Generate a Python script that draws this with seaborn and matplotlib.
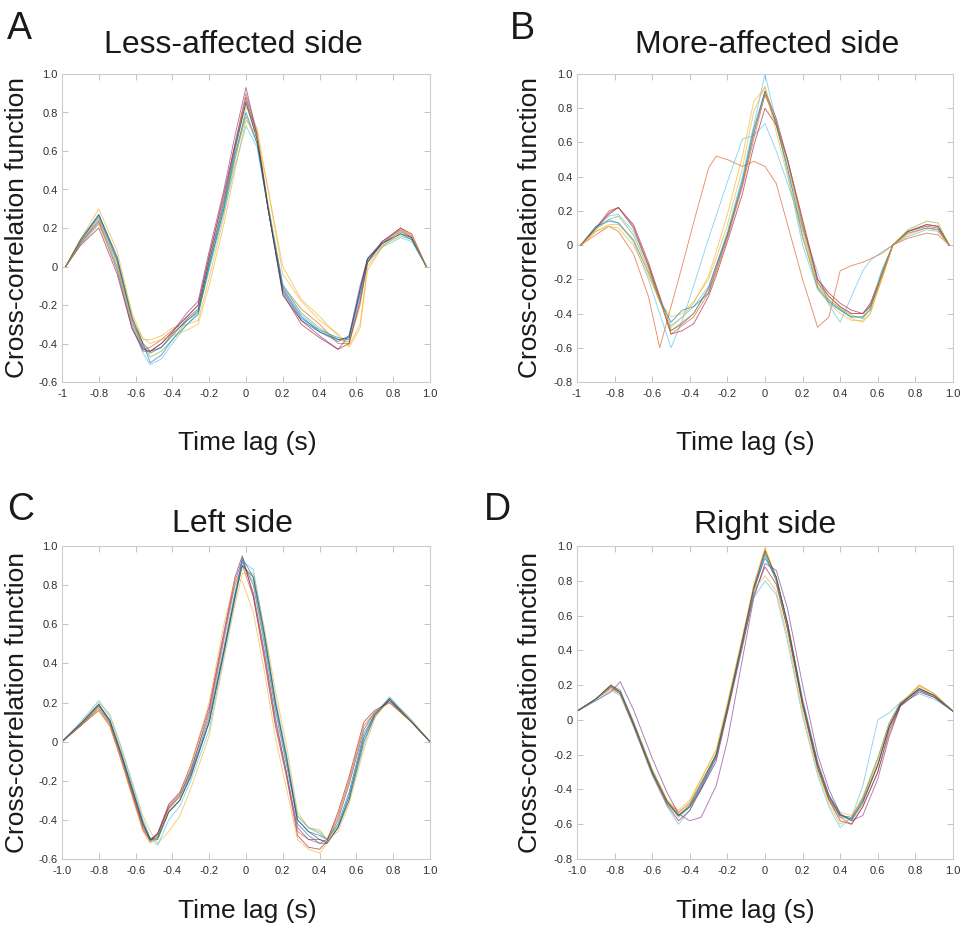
import numpy as np
import pandas as pd
import matplotlib
matplotlib.use("Agg")
import matplotlib.pyplot as plt
import seaborn as sns

# ---------------- data ----------------
# Panel A: Less-affected side
lag_A = [-0.98, -0.9, -0.8, -0.7, -0.62, -0.56, -0.52, -0.46, -0.4, -0.32, -0.26, -0.2, -0.12, -0.06,
         0.0, 0.06, 0.12, 0.2, 0.3, 0.4, 0.5, 0.56, 0.62, 0.66, 0.74, 0.84, 0.9, 0.98]
A1 = [0, 0.13, 0.27, 0.04, -0.28, -0.42, -0.45, -0.42, -0.36, -0.27, -0.22, 0.02, 0.32, 0.6, 0.86, 0.66, 0.3, -0.12, -0.27, -0.33, -0.37, -0.38, -0.12, 0.03, 0.12, 0.18, 0.15, 0]
A2 = [0, 0.12, 0.24, 0.0, -0.3, -0.43, -0.42, -0.38, -0.33, -0.26, -0.2, 0.06, 0.36, 0.64, 0.9, 0.7, 0.32, -0.1, -0.22, -0.3, -0.4, -0.4, -0.2, 0.02, 0.12, 0.2, 0.16, 0]
A3 = [0, 0.14, 0.30, 0.08, -0.24, -0.38, -0.38, -0.36, -0.32, -0.3, -0.28, -0.06, 0.26, 0.55, 0.83, 0.72, 0.4, -0.04, -0.18, -0.28, -0.35, -0.41, -0.3, 0.0, 0.1, 0.19, 0.16, 0]
A4 = [0, 0.12, 0.23, -0.02, -0.32, -0.44, -0.44, -0.4, -0.34, -0.24, -0.18, 0.08, 0.4, 0.68, 0.93, 0.68, 0.3, -0.13, -0.28, -0.36, -0.43, -0.36, -0.1, 0.04, 0.13, 0.19, 0.15, 0]
A5 = [0, 0.12, 0.25, 0.02, -0.28, -0.41, -0.47, -0.44, -0.38, -0.28, -0.24, 0.0, 0.3, 0.56, 0.78, 0.64, 0.32, -0.1, -0.24, -0.32, -0.38, -0.39, -0.16, 0.03, 0.11, 0.16, 0.14, 0]
A6 = [0, 0.11, 0.22, -0.01, -0.3, -0.45, -0.51, -0.48, -0.4, -0.3, -0.24, -0.02, 0.28, 0.52, 0.73, 0.62, 0.3, -0.09, -0.25, -0.33, -0.38, -0.38, -0.15, 0.02, 0.1, 0.15, 0.13, 0]
A7 = [0, 0.11, 0.2, -0.04, -0.32, -0.43, -0.44, -0.4, -0.34, -0.26, -0.2, 0.05, 0.38, 0.63, 0.88, 0.68, 0.3, -0.14, -0.3, -0.37, -0.43, -0.4, -0.18, 0.02, 0.13, 0.2, 0.17, 0]
A8 = [0, 0.13, 0.26, 0.03, -0.27, -0.4, -0.5, -0.46, -0.38, -0.3, -0.25, 0.0, 0.3, 0.58, 0.8, 0.64, 0.3, -0.11, -0.26, -0.34, -0.39, -0.36, -0.14, 0.04, 0.12, 0.17, 0.14, 0]
A9 = [0, 0.14, 0.27, 0.05, -0.26, -0.4, -0.44, -0.42, -0.35, -0.28, -0.23, 0.03, 0.34, 0.62, 0.85, 0.66, 0.3, -0.15, -0.28, -0.34, -0.38, -0.37, -0.12, 0.04, 0.12, 0.17, 0.15, 0]
A10 = [0, 0.12, 0.22, 0.0, -0.28, -0.37, -0.4, -0.38, -0.36, -0.33, -0.3, -0.1, 0.22, 0.5, 0.76, 0.68, 0.4, 0.0, -0.17, -0.26, -0.36, -0.42, -0.32, -0.02, 0.1, 0.18, 0.16, 0]

# Panel B: More-affected side
lag_B = [-0.98, -0.9, -0.83, -0.78, -0.7, -0.62, -0.56, -0.5, -0.44, -0.38, -0.3, -0.26, -0.2, -0.12, -0.06,
         0.0, 0.06, 0.12, 0.2, 0.28, 0.34, 0.4, 0.46, 0.52, 0.56, 0.62, 0.68, 0.76, 0.86, 0.92, 0.98]
B1 = [0, 0.06, 0.11, 0.08, -0.05, -0.3, -0.6, -0.36, -0.12, 0.13, 0.45, 0.52, 0.5, 0.46, 0.49, 0.46, 0.36, 0.12, -0.2, -0.48, -0.42, -0.15, -0.12, -0.1, -0.08, -0.05, 0.0, 0.04, 0.07, 0.06, 0]
B2 = [0, 0.1, 0.15, 0.13, 0.02, -0.2, -0.4, -0.6, -0.44, -0.24, 0.04, 0.17, 0.37, 0.62, 0.64, 0.71, 0.55, 0.36, 0.1, -0.16, -0.35, -0.45, -0.3, -0.15, -0.09, -0.04, 0.0, 0.05, 0.09, 0.08, 0]
B3 = [0, 0.1, 0.17, 0.18, 0.08, -0.12, -0.3, -0.47, -0.42, -0.36, -0.24, -0.12, 0.08, 0.4, 0.7, 1.0, 0.72, 0.42, 0.0, -0.26, -0.34, -0.38, -0.42, -0.42, -0.35, -0.15, 0.0, 0.08, 0.12, 0.11, 0]
B4 = [0, 0.1, 0.18, 0.22, 0.12, -0.1, -0.3, -0.52, -0.5, -0.46, -0.3, -0.18, 0.02, 0.3, 0.58, 0.8, 0.7, 0.5, 0.15, -0.2, -0.28, -0.34, -0.38, -0.4, -0.36, -0.2, 0.0, 0.08, 0.12, 0.11, 0]
B5 = [0, 0.08, 0.11, 0.1, 0.0, -0.18, -0.33, -0.42, -0.4, -0.33, -0.2, -0.08, 0.12, 0.45, 0.78, 0.93, 0.7, 0.45, 0.08, -0.24, -0.32, -0.37, -0.43, -0.45, -0.4, -0.2, 0.0, 0.06, 0.1, 0.09, 0]
B6 = [0, 0.1, 0.19, 0.22, 0.1, -0.12, -0.32, -0.5, -0.46, -0.4, -0.25, -0.12, 0.06, 0.36, 0.65, 0.9, 0.74, 0.5, 0.12, -0.2, -0.3, -0.36, -0.4, -0.4, -0.34, -0.18, 0.0, 0.08, 0.11, 0.1, 0]
B7 = [0, 0.11, 0.14, 0.13, 0.03, -0.16, -0.32, -0.45, -0.38, -0.36, -0.28, -0.14, 0.06, 0.38, 0.68, 0.9, 0.7, 0.45, 0.05, -0.25, -0.33, -0.38, -0.42, -0.42, -0.38, -0.16, 0.0, 0.07, 0.1, 0.09, 0]
B8 = [0, 0.09, 0.15, 0.17, 0.06, -0.14, -0.32, -0.5, -0.45, -0.4, -0.26, -0.14, 0.05, 0.36, 0.66, 0.88, 0.72, 0.48, 0.1, -0.22, -0.32, -0.37, -0.41, -0.43, -0.37, -0.17, 0.0, 0.09, 0.14, 0.13, 0]
B9 = [0, 0.1, 0.2, 0.22, 0.11, -0.12, -0.32, -0.52, -0.47, -0.42, -0.28, -0.16, 0.04, 0.34, 0.62, 0.88, 0.72, 0.5, 0.14, -0.22, -0.3, -0.36, -0.4, -0.4, -0.35, -0.18, 0.0, 0.08, 0.12, 0.11, 0]
B10 = [0, 0.08, 0.12, 0.12, 0.03, -0.16, -0.33, -0.48, -0.42, -0.34, -0.18, -0.04, 0.18, 0.52, 0.84, 0.92, 0.66, 0.4, 0.04, -0.24, -0.34, -0.4, -0.44, -0.44, -0.4, -0.2, 0.0, 0.07, 0.1, 0.09, 0]

# Panel C: Left side
lag_C = [-1.0, -0.9, -0.8, -0.74, -0.68, -0.62, -0.56, -0.52, -0.48, -0.42, -0.36, -0.3, -0.2, -0.12, -0.06,
         -0.02, 0.04, 0.1, 0.16, 0.22, 0.28, 0.34, 0.4, 0.44, 0.5, 0.56, 0.64, 0.7, 0.78, 0.9, 1.0]
C1 = [0, 0.09, 0.19, 0.1, -0.06, -0.24, -0.42, -0.5, -0.48, -0.34, -0.28, -0.16, 0.12, 0.48, 0.76, 0.92, 0.8, 0.5, 0.16, -0.12, -0.4, -0.46, -0.48, -0.5, -0.42, -0.26, 0.04, 0.14, 0.21, 0.1, 0]
C2 = [0, 0.08, 0.17, 0.09, -0.08, -0.26, -0.44, -0.5, -0.47, -0.34, -0.28, -0.14, 0.14, 0.52, 0.8, 0.9, 0.74, 0.44, 0.1, -0.16, -0.46, -0.5, -0.52, -0.5, -0.38, -0.2, 0.08, 0.15, 0.2, 0.1, 0]
C3 = [0, 0.09, 0.2, 0.14, -0.02, -0.2, -0.38, -0.46, -0.52, -0.46, -0.38, -0.24, 0.03, 0.42, 0.7, 0.86, 0.86, 0.58, 0.26, -0.02, -0.36, -0.44, -0.45, -0.5, -0.46, -0.32, -0.04, 0.12, 0.22, 0.11, 0]
C4 = [0, 0.08, 0.18, 0.1, -0.07, -0.25, -0.43, -0.5, -0.47, -0.33, -0.27, -0.15, 0.16, 0.54, 0.82, 0.93, 0.76, 0.46, 0.12, -0.16, -0.44, -0.5, -0.5, -0.51, -0.4, -0.22, 0.06, 0.15, 0.21, 0.1, 0]
C5 = [0, 0.09, 0.18, 0.1, -0.06, -0.24, -0.42, -0.51, -0.5, -0.36, -0.3, -0.18, 0.1, 0.46, 0.74, 0.9, 0.82, 0.52, 0.18, -0.1, -0.38, -0.44, -0.47, -0.5, -0.43, -0.28, 0.02, 0.14, 0.22, 0.1, 0]
C6 = [0, 0.1, 0.21, 0.13, -0.03, -0.21, -0.4, -0.49, -0.53, -0.4, -0.33, -0.2, 0.06, 0.44, 0.72, 0.92, 0.88, 0.56, 0.22, -0.06, -0.38, -0.44, -0.46, -0.5, -0.44, -0.3, -0.02, 0.14, 0.23, 0.11, 0]
C7 = [0, 0.08, 0.16, 0.08, -0.09, -0.27, -0.45, -0.51, -0.47, -0.32, -0.26, -0.12, 0.18, 0.56, 0.84, 0.95, 0.74, 0.42, 0.08, -0.18, -0.48, -0.54, -0.55, -0.51, -0.36, -0.18, 0.1, 0.16, 0.2, 0.1, 0]
C8 = [0, 0.09, 0.19, 0.11, -0.05, -0.23, -0.41, -0.5, -0.5, -0.36, -0.3, -0.17, 0.1, 0.46, 0.74, 0.94, 0.84, 0.54, 0.2, -0.08, -0.42, -0.48, -0.52, -0.52, -0.44, -0.28, 0.02, 0.14, 0.22, 0.1, 0]
C9 = [0, 0.08, 0.16, 0.08, -0.09, -0.28, -0.46, -0.52, -0.49, -0.35, -0.28, -0.12, 0.2, 0.6, 0.83, 0.82, 0.66, 0.36, 0.02, -0.24, -0.5, -0.55, -0.57, -0.52, -0.38, -0.2, 0.08, 0.15, 0.2, 0.1, 0]
C10 = [0, 0.09, 0.19, 0.11, -0.06, -0.24, -0.42, -0.5, -0.49, -0.36, -0.3, -0.18, 0.1, 0.46, 0.74, 0.9, 0.84, 0.55, 0.2, -0.08, -0.4, -0.46, -0.5, -0.52, -0.44, -0.3, 0.0, 0.13, 0.22, 0.1, 0]

# Panel D: Right side
lag_D = [-1.0, -0.9, -0.82, -0.77, -0.7, -0.6, -0.52, -0.46, -0.4, -0.34, -0.26, -0.2, -0.12, -0.06,
         0.0, 0.06, 0.12, 0.2, 0.28, 0.34, 0.4, 0.46, 0.52, 0.6, 0.66, 0.72, 0.82, 0.9, 1.0]
D1 = [0.05, 0.12, 0.19, 0.16, -0.02, -0.3, -0.48, -0.55, -0.5, -0.4, -0.22, 0.06, 0.44, 0.74, 0.95, 0.8, 0.55, 0.1, -0.26, -0.44, -0.55, -0.56, -0.45, -0.22, -0.02, 0.1, 0.17, 0.13, 0.05]
D2 = [0.05, 0.12, 0.18, 0.15, -0.03, -0.31, -0.47, -0.53, -0.48, -0.36, -0.2, 0.08, 0.46, 0.76, 0.98, 0.82, 0.55, 0.1, -0.25, -0.45, -0.56, -0.6, -0.5, -0.3, -0.08, 0.08, 0.2, 0.15, 0.05]
D3 = [0.05, 0.12, 0.2, 0.16, -0.01, -0.28, -0.46, -0.52, -0.46, -0.34, -0.17, 0.1, 0.48, 0.78, 0.99, 0.82, 0.55, 0.1, -0.26, -0.44, -0.53, -0.55, -0.46, -0.24, -0.04, 0.09, 0.2, 0.15, 0.05]
D4 = [0.05, 0.11, 0.16, 0.22, 0.06, -0.22, -0.42, -0.54, -0.58, -0.56, -0.38, -0.12, 0.35, 0.7, 0.9, 0.86, 0.64, 0.2, -0.2, -0.4, -0.54, -0.58, -0.55, -0.34, -0.1, 0.08, 0.17, 0.14, 0.05]
D5 = [0.05, 0.12, 0.19, 0.16, -0.02, -0.3, -0.48, -0.56, -0.5, -0.38, -0.2, 0.07, 0.46, 0.75, 0.96, 0.8, 0.52, 0.08, -0.28, -0.46, -0.56, -0.57, -0.46, -0.26, -0.04, 0.09, 0.18, 0.14, 0.05]
D6 = [0.05, 0.11, 0.17, 0.14, -0.04, -0.32, -0.5, -0.6, -0.52, -0.38, -0.22, 0.05, 0.44, 0.7, 0.8, 0.72, 0.45, 0.02, -0.32, -0.5, -0.62, -0.56, -0.38, 0.0, 0.04, 0.1, 0.15, 0.12, 0.05]
D7 = [0.05, 0.12, 0.19, 0.15, -0.03, -0.31, -0.49, -0.58, -0.52, -0.4, -0.24, 0.04, 0.42, 0.72, 0.88, 0.78, 0.52, 0.08, -0.28, -0.46, -0.58, -0.6, -0.5, -0.3, -0.06, 0.08, 0.16, 0.13, 0.05]
D8 = [0.05, 0.12, 0.2, 0.17, -0.01, -0.29, -0.47, -0.55, -0.5, -0.39, -0.21, 0.06, 0.45, 0.75, 0.93, 0.82, 0.56, 0.12, -0.24, -0.43, -0.54, -0.58, -0.48, -0.26, -0.04, 0.09, 0.18, 0.14, 0.05]
D9 = [0.05, 0.12, 0.19, 0.15, -0.02, -0.3, -0.47, -0.54, -0.47, -0.34, -0.18, 0.08, 0.47, 0.75, 0.83, 0.74, 0.48, 0.04, -0.3, -0.48, -0.6, -0.56, -0.44, -0.22, -0.02, 0.1, 0.19, 0.14, 0.05]
D10 = [0.05, 0.12, 0.2, 0.16, -0.02, -0.3, -0.47, -0.55, -0.49, -0.37, -0.2, 0.07, 0.46, 0.76, 0.97, 0.82, 0.55, 0.1, -0.26, -0.44, -0.55, -0.57, -0.47, -0.26, -0.04, 0.09, 0.18, 0.14, 0.05]

titles = ["Less-affected side", "More-affected side", "Left side", "Right side"]
letters = ["A", "B", "C", "D"]
xtick_vals = [-1.0, -0.8, -0.6, -0.4, -0.2, 0.0, 0.2, 0.4, 0.6, 0.8, 1.0]
xtick_labels_AB = ["-1", "-0.8", "-0.6", "-0.4", "-0.2", "0", "0.2", "0.4", "0.6", "0.8", "1.0"]
xtick_labels_CD = ["-1.0", "-0.8", "-0.6", "-0.4", "-0.2", "0", "0.2", "0.4", "0.6", "0.8", "1.0"]
ytick_vals_AC = [-0.6, -0.4, -0.2, 0.0, 0.2, 0.4, 0.6, 0.8, 1.0]
ytick_labels_AC = ["-0.6", "-0.4", "-0.2", "0", "0.2", "0.4", "0.6", "0.8", "1.0"]
ytick_vals_BD = [-0.8, -0.6, -0.4, -0.2, 0.0, 0.2, 0.4, 0.6, 0.8, 1.0]
ytick_labels_BD = ["-0.8", "-0.6", "-0.4", "-0.2", "0", "0.2", "0.4", "0.6", "0.8", "1.0"]

BLUE, ORANGE, YELLOW, PURPLE = "#0072BD", "#D95319", "#EDB120", "#7E2F8E"
GREEN, CYAN, DRED, GRAY = "#77AC30", "#4DBEEE", "#A2142F", "#404040"
colors_A = [BLUE, ORANGE, YELLOW, PURPLE, GREEN, CYAN, DRED, BLUE, GRAY, YELLOW]
colors_B = [ORANGE, CYAN, CYAN, DRED, YELLOW, PURPLE, BLUE, GREEN, ORANGE, YELLOW]
colors_C = [BLUE, ORANGE, YELLOW, PURPLE, GREEN, CYAN, DRED, BLUE, YELLOW, GRAY]
colors_D = [BLUE, ORANGE, YELLOW, PURPLE, GREEN, CYAN, DRED, BLUE, YELLOW, GRAY]

panels = [
    (lag_A, [A1, A2, A3, A4, A5, A6, A7, A8, A9, A10], colors_A, xtick_labels_AB, ytick_vals_AC, ytick_labels_AC),
    (lag_B, [B1, B2, B3, B4, B5, B6, B7, B8, B9, B10], colors_B, xtick_labels_AB, ytick_vals_BD, ytick_labels_BD),
    (lag_C, [C1, C2, C3, C4, C5, C6, C7, C8, C9, C10], colors_C, xtick_labels_CD, ytick_vals_AC, ytick_labels_AC),
    (lag_D, [D1, D2, D3, D4, D5, D6, D7, D8, D9, D10], colors_D, xtick_labels_CD, ytick_vals_BD, ytick_labels_BD),
]

# ---------------- styling ----------------
sns.set_theme(style="white")
plt.rcParams['font.family'] = ['Liberation Sans', 'DejaVu Sans']

W, H = 964, 930
fig = plt.figure(figsize=(W / 100, H / 100), dpi=100)

def fx(px):
    return px / W

def fy(py):
    return 1 - py / H

boxes = [(62, 430, 74, 382), (577, 953, 74, 382), (62, 430, 546, 859), (577, 953, 546, 859)]
title_pos = [(233, 53), (767, 53), (232, 532), (765, 533)]
letter_pos = [(7, 39), (510, 39), (7, 520), (484, 520)]
xlabel_pos = [(247, 450), (745, 450), (247, 918), (745, 918)]
ylabel_x = [17, 530, 17, 530]

for i, (lags, curves, cols, xtl, ytv, ytl) in enumerate(panels):
    l, r, t, b = boxes[i]
    ax = fig.add_axes([fx(l), fy(b), fx(r - l), (b - t) / H])
    rows = []
    for k, ys in enumerate(curves):
        for xv, yv in zip(lags, ys):
            rows.append((f"s{k}", xv, yv))
    df = pd.DataFrame(rows, columns=["subject", "lag", "r"])
    pal = {f"s{k}": c for k, c in enumerate(cols)}
    sns.lineplot(data=df, x="lag", y="r", hue="subject", palette=pal,
                 estimator=None, sort=False, legend=False, ax=ax, linewidth=0.65, alpha=0.65)
    ax.set_xlim(-1, 1)
    ax.set_ylim(ytv[0], ytv[-1])
    ax.set_xticks(xtick_vals)
    ax.set_xticklabels(xtl)
    ax.set_yticks(ytv)
    ax.set_yticklabels(ytl)
    ax.set_xlabel("")
    ax.set_ylabel("")
    ax.tick_params(direction="in", length=4, width=0.6, color="#b8b8b8",
                   top=True, right=True, bottom=True, left=True,
                   labelsize=8, labelcolor="#303030")
    ax.tick_params(axis="x", pad=5)
    ax.tick_params(axis="y", pad=3)
    for sp in ax.spines.values():
        sp.set_visible(True)
        sp.set_color("#cccccc")
        sp.set_linewidth(0.8)
    # texts
    tx, ty = title_pos[i]
    fig.text(fx(tx), fy(ty), titles[i], ha="center", va="baseline", fontsize=23, color="#1a1a1a")
    lx, ly = letter_pos[i]
    fig.text(fx(lx), fy(ly), letters[i], ha="left", va="baseline", fontsize=27, color="#1a1a1a")
    xx, xy = xlabel_pos[i]
    fig.text(fx(xx), fy(xy), "Time lag (s)", ha="center", va="baseline", fontsize=19, color="#1a1a1a")
    fig.text(fx(ylabel_x[i]), fy((t + b) / 2), "Cross-correlation function", rotation=90,
             ha="center", va="center", fontsize=19, color="#1a1a1a")

fig.savefig("out.png", dpi=100, facecolor="white")
